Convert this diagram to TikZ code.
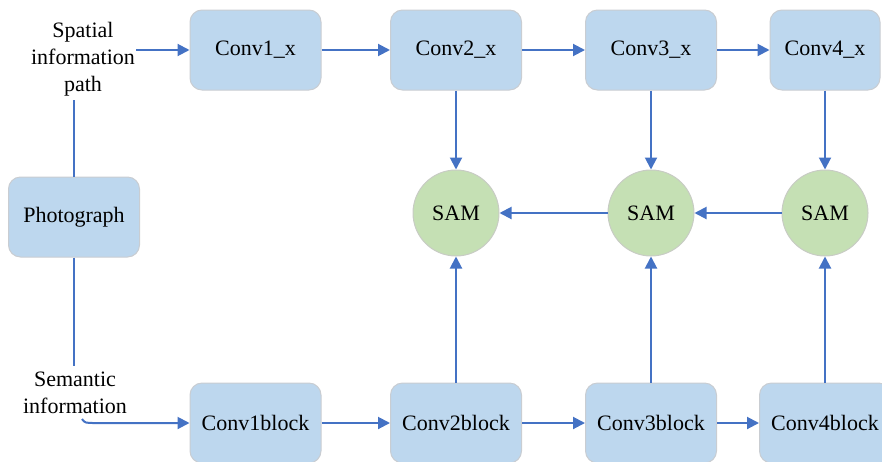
\documentclass[tikz,border=0pt]{standalone}
\usepackage{fontspec}
\setmainfont{Liberation Serif}
\usetikzlibrary{arrows.meta}
\definecolor{boxblue}{HTML}{BDD7EE}
\definecolor{boxedge}{HTML}{C9CDD2}
\definecolor{samgreen}{HTML}{C5E0B4}
\definecolor{samedge}{HTML}{C8CCC4}
\definecolor{arr}{HTML}{4472C4}
\begin{document}
\begin{tikzpicture}[x=0.5pt,y=-0.5pt,
  every node/.style={font=\fontsize{11pt}{13.5pt}\selectfont},
  blk/.style={draw=boxedge,line width=0.5pt,fill=boxblue,rounded corners=6pt,minimum width=65.5pt,minimum height=40pt,inner sep=0pt},
  sam/.style={circle,draw=samedge,line width=0.5pt,fill=samgreen,minimum size=43pt,inner sep=0pt},
  lbl/.style={align=center,inner sep=0pt},
  con/.style={draw=arr,line width=1pt},
  arrw/.style={con,-{Triangle[length=6pt,width=6pt]}}]
\useasboundingbox (0,0) rectangle (882,461);
% top row
\node[blk] (c1x) at (255.5,50) {Conv1\_x};
\node[blk] (c2x) at (456,50) {Conv2\_x};
\node[blk] (c3x) at (651,50) {Conv3\_x};
\node[blk,minimum width=55pt] (c4x) at (825,50) {Conv4\_x};
% SAM
\node[sam] (s1) at (456,213) {SAM};
\node[sam] (s2) at (651,213) {SAM};
\node[sam] (s3) at (825,213) {SAM};
% bottom row
\node[blk] (b1) at (255.5,423) {Conv1block};
\node[blk] (b2) at (456,423) {Conv2block};
\node[blk] (b3) at (651,423) {Conv3block};
\node[blk] (b4) at (825,423) {Conv4block};
% photograph
\node[blk] (ph) at (74,217) {Photograph};
% labels
\node[lbl] (sp) at (83,59) {Spatial\\information\\path};
\node[lbl] (se) at (75,393) {Semantic\\information};
\coordinate (spA) at (74,100);
\coordinate (spB) at (136,50);
\coordinate (seA) at (74,366);
\coordinate (seB) at (82,419);
\coordinate (seC) at (96,423);
% connectors
\draw[con] (ph.north) -- (spA);
\draw[con] (ph.south) -- (seA);
\draw[arrw] (spB) -- (spB -| c1x.west);
\draw[arrw] (seB) .. controls (85,423) .. (seC) -- (seC -| b1.west);
\draw[arrw] (c1x) -- (c2x);
\draw[arrw] (c2x) -- (c3x);
\draw[arrw] (c3x) -- (c4x);
\draw[arrw] (b1) -- (b2);
\draw[arrw] (b2) -- (b3);
\draw[arrw] (b3) -- (b4);
\draw[arrw] (s3) -- (s2);
\draw[arrw] (s2) -- (s1);
\draw[arrw] (c2x.south) -- (s1.north);
\draw[arrw] (c3x.south) -- (s2.north);
\draw[arrw] (c4x.south) -- (s3.north);
\draw[arrw] (b2.north) -- (s1.south);
\draw[arrw] (b3.north) -- (s2.south);
\draw[arrw] (b4.north) -- (s3.south);
\end{tikzpicture}
\end{document}
